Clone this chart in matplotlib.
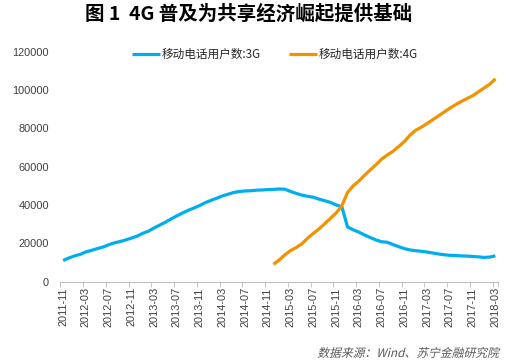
import numpy as np
import pandas as pd
import matplotlib
matplotlib.use("Agg")
import matplotlib.pyplot as plt
from matplotlib.textpath import TextPath
from matplotlib.patches import PathPatch
from matplotlib.font_manager import FontProperties
from matplotlib.transforms import Affine2D

plt.rcParams['font.family'] = ['Liberation Sans', 'Noto Sans CJK SC', 'DejaVu Sans']

# monthly categories 2011-11 .. 2018-03
months = [str(p) for p in pd.period_range('2011-11', '2018-03', freq='M')]

# 移动电话用户数:3G (万户)
users_3g = [11000, 12300, 13400, 14200, 15500, 16300, 17200, 18000, 19200, 20200,
            20900, 21700, 22700, 23700, 25200, 26300, 28000, 29500, 31000, 32700,
            34300, 35800, 37200, 38400, 39700, 41200, 42400, 43500, 44700, 45600,
            46500, 47000, 47300, 47400, 47700, 47800, 48000, 48100, 48300, 48200,
            47000, 46000, 45100, 44500, 44000, 43000, 42200, 41300, 40000, 39000,
            28500, 27000, 25800, 24300, 23000, 21700, 20800, 20500, 19300, 18200,
            17200, 16500, 16100, 15800, 15400, 14900, 14400, 14000, 13700, 13600,
            13400, 13300, 13100, 12900, 12600, 12800, 13400]

# 移动电话用户数:4G, starts 2014-12
start_4g = '2014-12'
users_4g = [9000, 11300, 14000, 16200, 17800, 19800, 22700, 25200, 27500, 30200,
            33000, 35800, 39500, 46500, 50000, 52500, 55500, 58300, 61000, 63900,
            66100, 68000, 70500, 73100, 76500, 79000, 80600, 82500, 84500, 86500,
            88500, 90500, 92300, 94000, 95500, 97000, 99000, 101000, 103000, 105800]

title = '图 1  4G 普及为共享经济崛起提供基础'
source = '数据来源：Wind、苏宁金融研究院'

x3 = np.arange(len(users_3g))
i0 = months.index(start_4g)
x4 = np.arange(i0, i0 + len(users_4g))

fig = plt.figure(figsize=(5.13, 3.61), dpi=100)
ax = fig.add_axes([0.1175, 0.22, 0.8538, 0.637])

ax.plot(x3, users_3g, color='#00AEEF', lw=2.3, label='移动电话用户数:3G', solid_capstyle='butt')
ax.plot(x4, users_4g, color='#F39200', lw=2.3, label='移动电话用户数:4G', solid_capstyle='butt')

ax.set_xlim(-0.5, len(months) - 0.5)
ax.set_ylim(0, 120000)
ax.set_yticks(range(0, 120001, 20000))

ax.set_xticks(x3[::4])
ax.set_xticklabels(months[::4], rotation=90)
ax.set_xticks(list(np.arange(-0.5, len(months), 4)) + [len(months) - 0.5], minor=True)
ax.tick_params(axis='x', which='major', length=0, pad=4, labelsize=7.9, colors='#404040')
ax.tick_params(axis='x', which='minor', length=3.5, color='#BFBFBF')
ax.tick_params(axis='y', length=0, pad=8, labelsize=7.9, colors='#404040')

for s in ['top', 'right', 'left']:
    ax.spines[s].set_visible(False)
ax.spines['bottom'].set_color('#BFBFBF')

leg = ax.legend(loc='upper center', bbox_to_anchor=(0.49, 1.06), ncol=2, frameon=False,
                handlelength=2.4, columnspacing=2.4, handletextpad=0.15,
                prop={'family': ['Noto Sans CJK SC', 'DejaVu Sans'], 'size': 8.4})
for t in leg.get_texts():
    t.set_color('#262626')

fig.text(0.484, 0.962, title, ha='center', va='center', fontsize=14, fontweight='bold',
         family=['Noto Sans CJK SC', 'DejaVu Sans'])

# source note, slanted by hand since the CJK font has no italic face
tp = TextPath((0, 0), source, prop=FontProperties(family='Noto Sans CJK SC', size=8.5))
w = tp.get_extents().width
px = 100 / 72
tr = Affine2D().translate(-w, 0).scale(px).skew_deg(14, 0).translate(498, 4)
fig.add_artist(PathPatch(tp, transform=tr, color='#595959', lw=0))

fig.savefig('out.png', dpi=100)
